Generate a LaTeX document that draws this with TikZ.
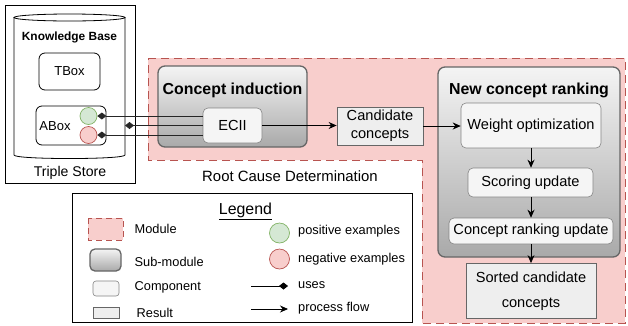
\documentclass[tikz,border=0pt]{standalone}
\usepackage{fontspec}
\setmainfont{Liberation Sans}
\usetikzlibrary{arrows.meta}
\definecolor{modfill}{HTML}{F8CECC}
\definecolor{modline}{HTML}{B85450}
\definecolor{posfill}{HTML}{D5E8D4}
\definecolor{posline}{HTML}{82B366}
\definecolor{compfill}{HTML}{F5F5F5}
\definecolor{resfill}{HTML}{EEEEEE}
\definecolor{greyline}{HTML}{666666}
\definecolor{subtop}{HTML}{F4F4F4}
\definecolor{subbot}{HTML}{A9A9A9}
\newcommand{\fsz}[1]{\fontsize{#1}{18}\selectfont}
\tikzset{
  box/.style={inner sep=0pt, anchor=center},
  submod/.style={box, draw=greyline, line width=1.3pt, rounded corners=7pt, top color=subtop, bottom color=subbot},
  comp/.style={box, draw=greyline!80, line width=0.6pt, rounded corners=5pt, fill=compfill, font=\fsz{14.6}},
  result/.style={box, draw=greyline, line width=0.8pt, fill=resfill, font=\fsz{14.6}, align=center},
  kbbox/.style={box, draw=black, line width=0.8pt, rounded corners=6pt, font=\fsz{13}},
  posex/.style={circle, inner sep=0pt, minimum size=17pt, draw=posline, fill=posfill, line width=0.7pt},
  negex/.style={circle, inner sep=0pt, minimum size=17pt, draw=modline, fill=modfill, line width=0.7pt},
  modstyle/.style={draw=modline, fill=modfill, line width=0.8pt, dash pattern=on 8pt off 5pt},
  flow/.style={-{Stealth[length=8pt,width=7pt]}, line width=0.8pt},
  usesline/.style={{Diamond[length=9pt,width=7pt]}-, line width=0.9pt, draw=black!85},
  titletext/.style={font=\bfseries\fsz{15.9}},
  legtext/.style={anchor=west, font=\fsz{12.8}, inner sep=0pt}
}
\begin{document}
\begin{tikzpicture}[x=1pt,y=-1pt]
\useasboundingbox (0,0) rectangle (628,325);
% module region
\path[modstyle] (148,58) -- (625,58) -- (625,323) -- (422,323) -- (422,160) -- (148,160) -- cycle;
\node[box, font=\fsz{14.9}] (rcd) at (290,176) {Root Cause Determination};

% triple store
\node[box, draw=black, line width=0.8pt, minimum width=130pt, minimum height=178pt] (ts) at (70,94) {};
\draw[line width=0.8pt, fill=white] (14,17.5) -- (14,155) .. controls (14,159.7) and (125,159.7) .. (125,155) -- (125,17.5);
\draw[line width=0.8pt] (69.5,17.5) ellipse [x radius=55.5, y radius=3.5];
\coordinate (kbE) at (125,125.5);
\node[box, font=\bfseries\fsz{11.9}] (kbt) at (69.5,37) {Knowledge Base};
\node[box, font=\fsz{14.1}] (tst) at (70,173) {Triple Store};
\node[kbbox, minimum width=61pt, minimum height=37pt] (tbox) at (69.5,71.5) {TBox};
\node[kbbox, minimum width=70pt, minimum height=39pt] (abox) at (71,125.5) {};
\node[box, font=\fsz{13}] (aboxt) at (55,126) {ABox};
\node[posex] (pos) at (88.5,116) {};
\node[negex] (neg) at (88.5,135) {};

% concept induction
\node[submod, minimum width=149pt, minimum height=81pt] (ci) at (232.5,106.5) {};
\node[titletext] (cit) at (232.5,90) {Concept induction};
\node[comp, minimum width=59pt, minimum height=35pt] (ecii) at (232.5,125.5) {ECII};
\node[result, minimum width=86pt, minimum height=38pt] (cand) at (380,126) {Candidate\\concepts};

% new concept ranking
\node[submod, minimum width=182pt, minimum height=190pt] (ncr) at (529,162) {};
\node[titletext] (ncrt) at (529,90) {New concept ranking};
\node[comp, minimum width=140pt, minimum height=45pt] (wo) at (531,125.5) {Weight optimization};
\node[comp, minimum width=125pt, minimum height=29pt] (su) at (530.5,182.5) {Scoring update};
\node[comp, minimum width=164pt, minimum height=26pt] (cru) at (531,231) {Concept ranking update};
\node[result, minimum width=130pt, minimum height=55pt] (sorted) at (531,291) {Sorted candidate\\[7pt]concepts};

% connectors
\draw[usesline] (pos.east) -- (ecii.west |- pos.east);
\draw[usesline] (kbE) -- (ecii.west |- kbE);
\draw[usesline] (neg.east) -- (ecii.west |- neg.east);
\draw[flow] (ecii.east) -- (cand.west |- ecii.east);
\draw[flow] (cand.east) -- (wo.west |- cand.east);
\draw[flow] (wo.south) -- (wo.south |- su.north);
\draw[flow] (su.south -| wo.south) -- (wo.south |- cru.north);
\draw[flow] (cru.south -| wo.south) -- (wo.south |- sorted.north);

% legend
\node[box, draw=black, line width=0.7pt, fill=white, minimum width=340pt, minimum height=129pt] (leg) at (242,257.5) {};
\node[box, font=\fsz{15.9}] (legt) at (245.5,211) {\underline{Legend}};
\path[modstyle, dash pattern=on 6pt off 4pt] (88,218) rectangle (123,240);
\node[legtext] (lmod) at (134.5,229) {Module};
\node[submod, minimum width=31pt, minimum height=22pt, rounded corners=5pt] (lsub) at (105.5,260) {};
\node[legtext] (lsubt) at (134.5,262) {Sub-module};
\node[comp, minimum width=26pt, minimum height=15pt, rounded corners=3pt] (lcomp) at (106,288.5) {};
\node[legtext] (lcompt) at (134.5,287.5) {Component};
\node[result, minimum width=26pt, minimum height=11pt] (lres) at (106,312.5) {};
\node[legtext] (lrest) at (136.5,313) {Result};
\node[posex, minimum size=20pt] (lpos) at (279.5,233) {};
\node[legtext] (lpost) at (298,231) {positive examples};
\node[negex, minimum size=20pt] (lneg) at (279.5,259) {};
\node[legtext] (lnegt) at (298,259) {negative examples};
\coordinate (lu1) at (251,286);
\coordinate (lu2) at (288,286);
\draw[usesline, line width=0.8pt, draw=black] (lu2) -- (lu1);
\node[legtext] (lust) at (298,285.5) {uses};
\coordinate (lf1) at (251,309);
\coordinate (lf2) at (288,309);
\draw[flow] (lf1) -- (lf2);
\node[legtext] (lflt) at (298,308.5) {process flow};
\end{tikzpicture}
\end{document}
